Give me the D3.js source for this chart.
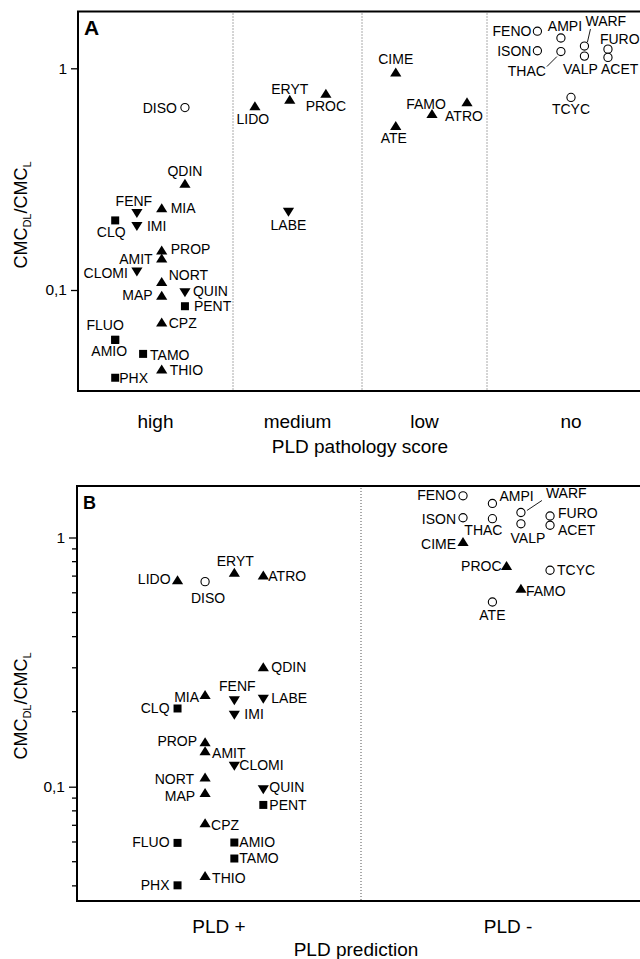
<!DOCTYPE html>
<html><head><meta charset="utf-8">
<script src="https://cdn.jsdelivr.net/npm/d3@7"></script>
<style>
html,body{margin:0;padding:0;background:#fff;}
svg{display:block;font-family:"Liberation Sans",Arial,sans-serif;}
</style></head>
<body>
<svg id="chart" width="640" height="959"></svg>
<script>
// ---------------- DATA ----------------
const compounds = ["DISO","QDIN","FENF","MIA","CLQ","IMI","PROP","AMIT","CLOMI","NORT","MAP","QUIN","PENT","CPZ","FLUO","AMIO","TAMO","THIO","PHX",
  "LIDO","ERYT","PROC","LABE","CIME","ATE","FAMO","ATRO","FENO","AMPI","ISON","THAC","WARF","VALP","FURO","ACET","TCYC"];
// CMC_DL / CMC_L ratio
const ratio = [0.665,0.302,0.222,0.234,0.206,0.194,0.151,0.139,0.121,0.109,0.0945,0.0975,0.0845,0.0715,0.0595,0.0597,0.0515,0.0439,0.0402,
  0.675,0.723,0.77,0.225,0.96,0.551,0.624,0.705,1.47,1.37,1.20,1.19,1.26,1.135,1.22,1.12,0.739];
// Panel A: PLD pathology score
const scoreCategories = ["high","medium","low","no"];
const posA = [0.69,0.69,0.38,0.54,0.24,0.38,0.54,0.54,0.38,0.54,0.54,0.69,0.69,0.54,0.24,0.24,0.42,0.54,0.24,
  1.17,1.44,1.72,1.43,2.27,2.27,2.56,2.84,3.30,3.44,3.30,3.44,3.58,3.58,3.72,3.72,3.50];
const markerA = ["circle","up","down","up","square","down","up","up","down","up","up","down","square","up","square","square","square","up","square",
  "up","up","up","down","up","up","up","up","circle","circle","circle","circle","circle","circle","circle","circle","circle"];
// Panel B: PLD prediction
const predCategories = ["PLD +","PLD -"];
const posB = [0.451,0.656,0.554,0.451,0.354,0.554,0.451,0.451,0.554,0.451,0.451,0.656,0.656,0.451,0.354,0.554,0.554,0.451,0.354,
  0.354,0.554,1.495,0.656,1.347,1.447,1.544,0.656,1.347,1.447,1.347,1.447,1.544,1.544,1.643,1.643,1.643];
const markerB = ["circle","up","down","up","square","down","up","up","down","up","up","down","square","up","square","square","square","up","square",
  "up","up","up","down","up","circle","up","up","circle","circle","circle","circle","circle","circle","circle","circle","circle"];
const yTickValues = [0.1, 1];
const yTickLabels = ["0,1", "1"];
const minorTicksB = [0.04,0.05,0.06,0.07,0.08,0.09,0.2,0.3,0.4,0.5,0.6,0.7,0.8,0.9];

// ---------------- LAYOUT (label placement: anchor, dx, dy) ----------------
const labA = {
  DISO:["end",-8,5], QDIN:["middle",0,-8], FENF:["middle",-3,-7], MIA:["start",9,5], CLQ:["middle",-4,17],
  IMI:["start",10,5], PROP:["start",9,4], AMIT:["end",-9,6], CLOMI:["end",-9,6], NORT:["start",7,-2],
  MAP:["end",-9,5], QUIN:["start",8,4], PENT:["start",9,5], CPZ:["start",7,6], FLUO:["middle",-10,-10],
  AMIO:["middle",-6,16], TAMO:["start",7,6], THIO:["start",8,6], PHX:["start",4,5],
  LIDO:["middle",-2,18], ERYT:["middle",0,-6], PROC:["middle",0,18], LABE:["middle",0,18],
  CIME:["middle",0,-8], ATE:["middle",-2,17], FAMO:["middle",-6,-5], ATRO:["middle",-3,19],
  FENO:["end",-6,5], AMPI:["middle",4,-7], ISON:["end",-6,5], THAC:["end",-15,24], WARF:["start",1,-20],
  VALP:["middle",-4,18], FURO:["start",-8,-5], ACET:["start",-7,17], TCYC:["middle",0,17]
};
const labB = {
  LIDO:["end",-7,4], DISO:["middle",3,21], ERYT:["middle",1,-7], ATRO:["start",5,6], QDIN:["start",8,5],
  MIA:["end",-6,7], FENF:["middle",3,-9], LABE:["start",8,4], CLQ:["end",-8,5], IMI:["start",10,4],
  PROP:["end",-8,4], AMIT:["start",7,7], CLOMI:["start",5,4], NORT:["end",-11,7], MAP:["end",-10,8],
  QUIN:["start",6,3], PENT:["start",6,5], CPZ:["start",6,7], FLUO:["end",-8,4], AMIO:["start",5,4],
  TAMO:["start",5,4], THIO:["start",7,7], PHX:["end",-8,5],
  FENO:["end",-7,4], AMPI:["start",7,-2], WARF:["start",25,-14], ISON:["end",-7,6], THAC:["middle",-9,16],
  VALP:["middle",7,19], FURO:["start",8,2], ACET:["start",8,10], CIME:["end",-7,7], PROC:["end",-5,5],
  TCYC:["start",7,5], FAMO:["start",5,7], ATE:["middle",0,18]
};
// leader lines: [x1,y1,x2,y2] relative to marker
const leadA = { THAC:[-14,15,-4,5], WARF:[6,-17,3,-4] };
const leadB = { WARF:[21,-12,6,-2] };

const svg = d3.select("#chart");

function symbolPath(type){
  if(type==="up") return "M0,-4.8L5.6,4.2L-5.6,4.2Z";
  if(type==="down") return "M0,4.8L5.6,-4.2L-5.6,-4.2Z";
  if(type==="square") return "M-4,-4H4V4H-4Z";
  return null;
}

function drawPanel(cfg){
  const g = svg.append("g");
  const {x0, x1, yTop, yBot} = cfg;
  const y = d3.scaleLog().domain([0.1, 1]).range(cfg.yRange);
  const x = d3.scaleLinear().domain(cfg.xDomain).range(cfg.xRange);

  cfg.dividers.forEach(d => {
    g.append("line").attr("x1", x(d)).attr("x2", x(d)).attr("y1", yTop+2).attr("y2", yBot-1)
      .attr("stroke", "#555").attr("stroke-width", 1).attr("stroke-dasharray", "1,2");
  });

  (cfg.minor||[]).forEach(v => {
    g.append("line").attr("x1", x0-5).attr("x2", x0).attr("y1", y(v)).attr("y2", y(v))
      .attr("stroke", "#000").attr("stroke-width", 1.3);
  });
  const ax = d3.axisLeft(y).tickValues(yTickValues)
    .tickFormat(d => yTickLabels[yTickValues.indexOf(d)]).tickSize(cfg.tickLen).tickPadding(4);
  const axg = g.append("g").attr("transform", `translate(${x0},0)`).call(ax);
  axg.select(".domain").remove();
  axg.selectAll("line").attr("stroke-width", 1.3);
  axg.selectAll("text").attr("font-size", 15.5).attr("font-family", "Liberation Sans, Arial, sans-serif").attr("fill", "#000");

  g.append("path").attr("d", `M${x1},${yTop}H${x0}V${yBot}H${x1}`)
    .attr("fill", "none").attr("stroke", "#000").attr("stroke-width", 2);

  g.append("text").attr("x", x0+6).attr("y", cfg.letterY).text(cfg.letter)
    .attr("font-weight", "bold").attr("font-size", cfg.letterSize);

  const data = compounds.map((n,i) => ({name:n, v:ratio[i], p:cfg.pos[i], m:cfg.marker[i]}));
  data.forEach(d => {
    const cx = x(d.p), cy = y(d.v);
    if(d.m === "circle"){
      g.append("circle").attr("cx", cx).attr("cy", cy).attr("r", 4.1)
        .attr("fill", "#fff").attr("stroke", "#000").attr("stroke-width", 1.1);
    } else {
      g.append("path").attr("d", symbolPath(d.m)).attr("transform", `translate(${cx},${cy})`).attr("fill", "#000");
    }
    const L = cfg.labels[d.name];
    g.append("text").attr("x", cx + L[1]).attr("y", cy + L[2]).attr("text-anchor", L[0])
      .attr("font-size", 14).attr("fill", "#000").text(d.name);
    const ld = cfg.leads[d.name];
    if(ld){
      g.append("line").attr("x1", cx+ld[0]).attr("y1", cy+ld[1]).attr("x2", cx+ld[2]).attr("y2", cy+ld[3])
        .attr("stroke", "#000").attr("stroke-width", 0.9);
    }
  });

  cfg.categories.forEach((c,i) => {
    g.append("text").attr("x", x(i+0.5)).attr("y", cfg.catY).attr("text-anchor", "middle")
      .attr("font-size", 19).text(c);
  });
  g.append("text").attr("x", cfg.titleX).attr("y", cfg.titleY).attr("text-anchor", "middle")
    .attr("font-size", 19).text(cfg.title);

  const yt = g.append("text").attr("transform", `translate(${cfg.yTitleX},${cfg.yTitleY}) rotate(-90)`)
    .attr("text-anchor", "middle").attr("font-size", 18);
  yt.append("tspan").text("CMC");
  yt.append("tspan").text("DL").attr("font-size", 11).attr("dy", 4);
  yt.append("tspan").text("/CMC").attr("dy", -4);
  yt.append("tspan").text("L").attr("font-size", 11).attr("dy", 4);
}

drawPanel({
  x0:78, x1:660, yTop:11.5, yBot:391, yRange:[290,68.3], tickLen:7,
  xDomain:[0,1,2,3,4], xRange:[78,233,362,487,655], dividers:[1,2,3],
  pos:posA, marker:markerA, labels:labA, leads:leadA,
  categories:scoreCategories, catY:428, title:"PLD pathology score", titleX:360, titleY:453,
  letter:"A", letterY:35, letterSize:21, yTitleX:27, yTitleY:215
});
drawPanel({
  x0:77, x1:660, yTop:486, yBot:901, yRange:[786.7,537.5], tickLen:8, minor:minorTicksB,
  xDomain:[0,1,2], xRange:[77,361,655], dividers:[1],
  pos:posB, marker:markerB, labels:labB, leads:leadB,
  categories:predCategories, catY:933, title:"PLD prediction", titleX:356, titleY:956,
  letter:"B", letterY:509, letterSize:18, yTitleX:27, yTitleY:706
});
</script>
</body></html>
